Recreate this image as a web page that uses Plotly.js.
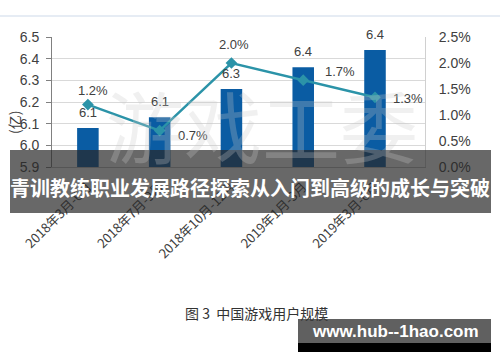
<!DOCTYPE html>
<html>
<head>
<meta charset="utf-8">
<script src="https://cdn.plot.ly/plotly-3.0.1.min.js"></script>
<style>
html,body{margin:0;padding:0;background:#fff;}
#chart{width:500px;height:362px;}
</style>
</head>
<body>
<div id="chart"></div>
<script>
// ---- data ----
var categories = ["2018年3月-6月", "2018年7月-9月", "2018年10月-12月", "2019年1月-3月", "2019年3月-6月"];
var users = [6.08, 6.13, 6.26, 6.36, 6.44];          // 用户规模 (亿)
var growth = [1.2, 0.7, 2.0, 1.67, 1.34];             // 环比增长 (%)
var leftTicks = [5.9, 6.0, 6.1, 6.2, 6.3, 6.4, 6.5];
var rightTicks = [0, 0.5, 1.0, 1.5, 2.0, 2.5];
var yTitle = "(亿)";
var caption = "图 3  中国游戏用户规模";
var bannerText = "青训教练职业发展路径探索从入门到高级的成长与突破";
var badgeText = "www.hub--1hao.com";
var watermark = "游戏工委";

// label offsets (px) for growth labels
var growthShift = [[5, 14], [33, -5], [3, 19], [37, 9], [33, -1]];

var fontFam = "Liberation Sans, Arial, Noto Sans CJK SC, sans-serif";
var cjkFam = "Noto Sans CJK SC, sans-serif";

// pixel helpers -> paper coords (plot area 52..425 x, 37..167 y)
function px(x) { return (x - 52) / 373; }
function py(y) { return (167 - y) / 130; }

var traces = [
  {
    type: "bar",
    x: categories,
    y: users,
    width: 0.3,
    marker: {color: "#0a5ca3"},
    yaxis: "y",
    hoverinfo: "none"
  },
  {
    type: "scatter",
    mode: "lines+markers",
    x: categories,
    y: growth,
    yaxis: "y2",
    line: {color: "#2b93a8", width: 2.5},
    marker: {symbol: "diamond", size: 9, color: "#2b93a8"},
    hoverinfo: "none"
  }
];

var annotations = [];
categories.forEach(function (c, i) {
  annotations.push({
    x: c, y: users[i], xref: "x", yref: "y",
    xanchor: "center", yanchor: "middle",
    text: users[i].toFixed(1), showarrow: false,
    yshift: 16, font: {size: 13, color: "#404040", family: fontFam}
  });
  annotations.push({
    x: c, y: growth[i], xref: "x", yref: "y2",
    xanchor: "center", yanchor: "middle",
    text: growth[i].toFixed(1) + "%", showarrow: false,
    xshift: growthShift[i][0], yshift: growthShift[i][1],
    font: {size: 13, color: "#404040", family: fontFam}
  });
});
// watermark
annotations.push({
  x: px(262), y: py(124), xref: "paper", yref: "paper",
  xanchor: "center", yanchor: "middle",
  text: watermark, showarrow: false,
  font: {size: 78, color: "rgba(200,200,200,0.28)", family: cjkFam}
});
// y title
annotations.push({
  x: px(14), y: py(123), xref: "paper", yref: "paper",
  xanchor: "center", yanchor: "middle",
  text: yTitle, showarrow: false, textangle: -90,
  font: {size: 14, color: "#404040", family: cjkFam}
});
// banner text
annotations.push({
  x: px(250), y: py(187), xref: "paper", yref: "paper",
  xanchor: "center", yanchor: "middle",
  text: "<b>" + bannerText + "</b>", showarrow: false,
  font: {size: 20, color: "#ffffff", family: cjkFam}
});
// caption
annotations.push({
  x: px(183), y: py(313), xref: "paper", yref: "paper",
  xanchor: "left", yanchor: "middle",
  text: caption, showarrow: false,
  font: {size: 14, color: "#333333", family: cjkFam}
});
// badge text
annotations.push({
  x: px(395), y: py(331), xref: "paper", yref: "paper",
  xanchor: "center", yanchor: "middle",
  text: "<b>" + badgeText + "</b>", showarrow: false,
  font: {size: 17, color: "#ffffff", family: fontFam}
});

var shapes = [
  // faint top frame line
  {type: "line", xref: "paper", yref: "paper", x0: px(0), x1: px(500), y0: py(16), y1: py(16),
   line: {color: "#e6ecf4", width: 2}, layer: "below"},
  // banner
  {type: "rect", xref: "paper", yref: "paper", x0: px(10), x1: px(491), y0: py(150), y1: py(213),
   fillcolor: "rgba(40,40,40,0.7)", line: {width: 0}, layer: "above"},
  // badge
  {type: "rect", xref: "paper", yref: "paper", x0: px(298), x1: px(491), y0: py(319), y1: py(343),
   fillcolor: "#606060", line: {width: 0}, layer: "above"},
  {type: "rect", xref: "paper", yref: "paper", x0: px(298), x1: px(491), y0: py(343), y1: py(352),
   fillcolor: "#000000", line: {width: 0}, layer: "above"}
];

var layout = {
  width: 500, height: 362,
  margin: {l: 52, r: 75, t: 37, b: 195},
  paper_bgcolor: "#ffffff",
  plot_bgcolor: "#ffffff",
  showlegend: false,
  font: {family: fontFam, color: "#404040"},
  xaxis: {
    type: "category",
    tickangle: -45,
    tickfont: {size: 13, color: "#404040", family: cjkFam},
    ticklabelstandoff: 6,
    showgrid: false,
    showline: true, linecolor: "#bfbfbf", linewidth: 1,
    ticks: "", fixedrange: true
  },
  yaxis: {
    range: [5.9, 6.5],
    tickvals: leftTicks,
    ticktext: leftTicks.map(function (v) { return v.toFixed(1); }),
    tickfont: {size: 14, color: "#404040"},
    showgrid: true, gridcolor: "#d9d9d9", gridwidth: 1,
    showline: true, linecolor: "#808080", linewidth: 1,
    ticks: "outside", ticklen: 5, tickcolor: "#808080",
    ticklabelstandoff: 4,
    zeroline: false, fixedrange: true
  },
  yaxis2: {
    range: [0, 2.5],
    overlaying: "y", side: "right",
    tickvals: rightTicks,
    ticktext: rightTicks.map(function (v) { return v.toFixed(1) + "%"; }),
    tickfont: {size: 14, color: "#404040"},
    showgrid: false,
    showline: true, linecolor: "#d0d0d0", linewidth: 1,
    ticks: "", ticklabelstandoff: 10,
    zeroline: false, fixedrange: true
  },
  annotations: annotations,
  shapes: shapes
};

Plotly.newPlot("chart", traces, layout, {displayModeBar: false, staticPlot: true});
</script>
</body>
</html>
